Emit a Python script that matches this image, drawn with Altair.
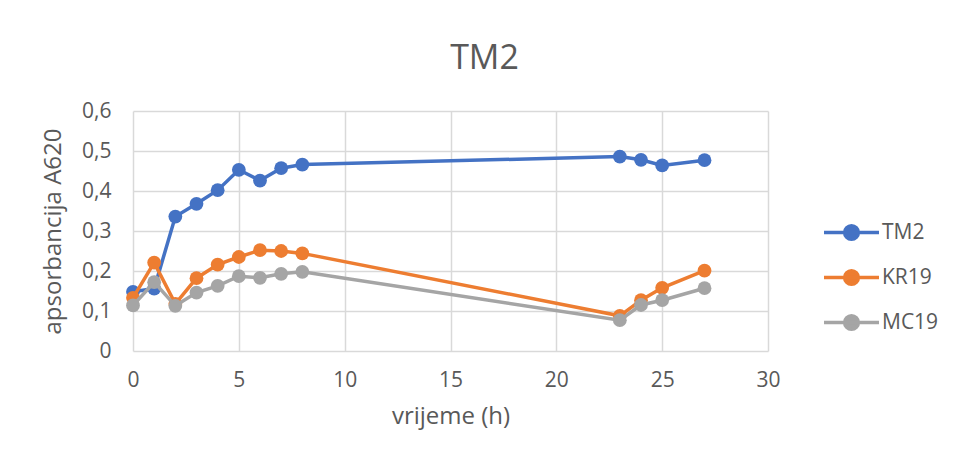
import altair as alt
import pandas as pd

hours = [0, 1, 2, 3, 4, 5, 6, 7, 8, 23, 24, 25, 27]
tm2 = [0.148, 0.156, 0.336, 0.368, 0.402, 0.453, 0.426, 0.457, 0.466, 0.486, 0.478, 0.464, 0.477]
kr19 = [0.133, 0.221, 0.118, 0.182, 0.216, 0.235, 0.252, 0.250, 0.244, 0.088, 0.127, 0.158, 0.201]
mc19 = [0.114, 0.172, 0.113, 0.146, 0.163, 0.187, 0.183, 0.193, 0.198, 0.077, 0.115, 0.127, 0.157]

series_names = ["TM2", "KR19", "MC19"]
series_colors = ["#4472C4", "#ED7D31", "#A5A5A5"]
series_values = [tm2, kr19, mc19]

rows = []
for name, vals in zip(series_names, series_values):
    for h, v in zip(hours, vals):
        rows.append({"vrijeme": h, "A620": v, "serija": name})
df = pd.DataFrame(rows)

FONT = "Open Sans"
GREY = "#595959"

# legend symbol: line segment with a filled circle in the middle
sym_path = "M-2,0H2M-0.5,0A0.5,0.5,0,1,1,0.5,0A0.5,0.5,0.5,1,1,-0.5,0Z"

color = alt.Color(
    "serija:N",
    scale=alt.Scale(domain=series_names, range=series_colors),
    legend=alt.Legend(
        title=None,
        orient="none",
        legendX=703,
        legendY=106,
        symbolType=sym_path,
        symbolSize=756,
        symbolStrokeWidth=3.5,
        symbolOpacity=1,
        labelFont=FONT,
        labelFontSize=21,
        labelColor=GREY,
        labelOffset=15,
        rowPadding=15,
    ),
)

x = alt.X(
    "vrijeme:Q",
    scale=alt.Scale(domain=[0, 30], nice=False),
    axis=alt.Axis(
        title="vrijeme (h)",
        values=[0, 5, 10, 15, 20, 25, 30],
        labelFlush=False,
        labelPadding=18,
        titlePadding=14,
    ),
)
y = alt.Y(
    "A620:Q",
    scale=alt.Scale(domain=[0, 0.6], nice=False),
    axis=alt.Axis(
        title="apsorbancija A620",
        values=[0, 0.1, 0.2, 0.3, 0.4, 0.5, 0.6],
        labelExpr="datum.value == 0 ? '0' : replace(format(datum.value, '.1f'), '.', ',')",
        labelFlush=False,
        labelPadding=22,
        titlePadding=16,
    ),
)

layers = []
for name in series_names:
    base = alt.Chart(df).transform_filter(alt.datum.serija == name)
    layers.append(base.mark_line(strokeWidth=3.5).encode(x=x, y=y, color=color))
    layers.append(base.mark_point(filled=True, size=190, opacity=1).encode(x=x, y=y, color=color))

chart = alt.layer(*layers).properties(
    width=635,
    height=240,
    title=alt.TitleParams("TM2", frame="group", anchor="middle", dx=34, fontSize=34,
                          font=FONT, fontWeight="normal", color=GREY, offset=24),
    autosize=alt.AutoSizeParams(type="none"),
    padding={"left": 125, "top": 103, "right": 177, "bottom": 103},
).configure_axis(
    grid=True,
    gridColor="#D9D9D9",
    gridWidth=1.5,
    domain=False,
    ticks=False,
    labelFont=FONT,
    labelFontSize=21,
    labelColor=GREY,
    titleFont=FONT,
    titleFontSize=24,
    titleFontWeight="normal",
    titleColor=GREY,
).configure_view(stroke=None)

chart.save("out.html", embed_options={"renderer": "svg", "actions": False})
